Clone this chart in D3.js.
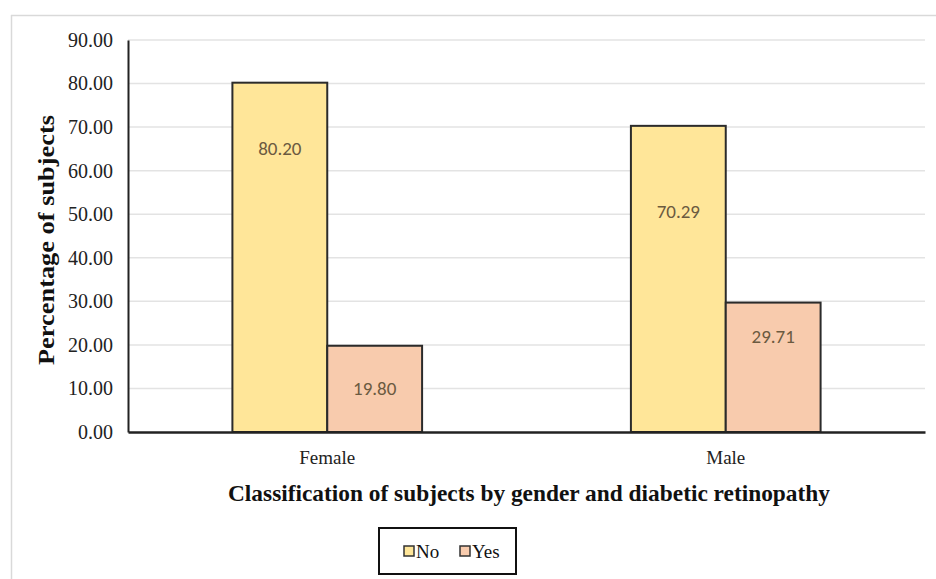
<!DOCTYPE html>
<html>
<head>
<meta charset="utf-8">
<script src="https://cdn.jsdelivr.net/npm/d3@7"></script>
<style>
  body { margin: 0; background: #fff; }
  svg { display: block; }
</style>
</head>
<body>
<script>
// data
var categories = ["Female", "Male"];
var seriesNames = ["No", "Yes"];
var noValues = [80.20, 70.29];
var yesValues = [19.80, 29.71];
// where the value labels sit, in axis units
var noLabelAt = [65.2, 50.7];
var yesLabelAt = [10.1, 22.0];
var yTicks = [0, 10, 20, 30, 40, 50, 60, 70, 80, 90];

var colors = { No: "#ffe699", Yes: "#f8cbad" };
var serif = "'Liberation Serif', 'DejaVu Serif', serif";

var width = 936, height = 579;
var margin = { top: 40, right: 11, bottom: 147, left: 128 };

var svg = d3.select("body")
    .append("svg")
    .attr("width", width)
    .attr("height", height);

// light chart-area border (top and left visible)
svg.append("line")
    .attr("x1", 11).attr("x2", width).attr("y1", 15.5).attr("y2", 15.5)
    .attr("stroke", "#d9d9d9").attr("stroke-width", 1.5);
svg.append("line")
    .attr("x1", 11.5).attr("x2", 11.5).attr("y1", 15).attr("y2", height)
    .attr("stroke", "#d9d9d9").attr("stroke-width", 1.5);

var g = svg.append("g")
    .attr("transform", "translate(" + margin.left + "," + margin.top + ")");

var w = width - margin.left - margin.right;
var h = height - margin.top - margin.bottom;

var y = d3.scaleLinear().domain([0, 90]).range([h, 0]);

var x0 = d3.scaleBand()
    .domain(categories)
    .range([0, w])
    .paddingInner(0.524)
    .paddingOuter(0.262);

var x1 = d3.scaleBand()
    .domain(seriesNames)
    .range([0, x0.bandwidth()]);

// gridlines
g.append("g")
    .selectAll("line")
    .data(yTicks.slice(1))
    .enter()
    .append("line")
    .attr("x1", 0).attr("x2", w)
    .attr("y1", function (d) { return y(d); })
    .attr("y2", function (d) { return y(d); })
    .attr("stroke", "#e3e3e3")
    .attr("stroke-width", 1.5);

// y axis
var yAxis = g.append("g")
    .call(d3.axisLeft(y).tickValues(yTicks).tickSize(0).tickPadding(15)
        .tickFormat(d3.format(".2f")));
yAxis.select(".domain").attr("stroke", "#222").attr("stroke-width", 2);
yAxis.selectAll("text")
    .style("font-family", serif)
    .style("font-size", "20px")
    .attr("fill", "#222");

// bars
var rows = categories.map(function (c, i) {
    return [
        { cat: c, key: "No", value: noValues[i], labelAt: noLabelAt[i] },
        { cat: c, key: "Yes", value: yesValues[i], labelAt: yesLabelAt[i] }
    ];
});

var groups = g.selectAll(".grp")
    .data(rows)
    .enter()
    .append("g")
    .attr("class", "grp")
    .attr("transform", function (d) { return "translate(" + x0(d[0].cat) + ",0)"; });

groups.selectAll("rect")
    .data(function (d) { return d; })
    .enter()
    .append("rect")
    .attr("x", function (d) { return x1(d.key); })
    .attr("y", function (d) { return y(d.value); })
    .attr("width", x1.bandwidth())
    .attr("height", function (d) { return h - y(d.value); })
    .attr("fill", function (d) { return colors[d.key]; })
    .attr("stroke", "#2b2b2b")
    .attr("stroke-width", 2);

groups.selectAll("text.val")
    .data(function (d) { return d; })
    .enter()
    .append("text")
    .attr("class", "val")
    .attr("x", function (d) { return x1(d.key) + x1.bandwidth() / 2; })
    .attr("y", function (d) { return y(d.labelAt); })
    .attr("dy", "0.35em")
    .attr("text-anchor", "middle")
    .style("font-family", "Carlito, 'Open Sans', sans-serif")
    .style("font-size", "19px")
    .attr("fill", "#6b5a40")
    .text(function (d) { return d.value.toFixed(2); });

// x axis baseline
var xAxis = g.append("g")
    .attr("transform", "translate(0," + h + ")")
    .call(d3.axisBottom(x0).tickSize(0).tickPadding(19));
xAxis.select(".domain").attr("stroke", "#222").attr("stroke-width", 2.5);
xAxis.selectAll("text")
    .style("font-family", serif)
    .style("font-size", "19px")
    .attr("fill", "#222");

// axis titles
svg.append("text")
    .attr("transform", "translate(54," + (margin.top + h / 2 + 4) + ") rotate(-90)")
    .attr("text-anchor", "middle")
    .style("font-family", serif)
    .style("font-weight", "bold")
    .style("font-size", "24px")
    .attr("textLength", 250)
    .attr("lengthAdjust", "spacingAndGlyphs")
    .attr("fill", "#111")
    .text("Percentage of subjects");

svg.append("text")
    .attr("x", 529)
    .attr("y", 501)
    .attr("text-anchor", "middle")
    .style("font-family", serif)
    .style("font-weight", "bold")
    .style("font-size", "23px")
    .attr("textLength", 602)
    .attr("lengthAdjust", "spacingAndGlyphs")
    .attr("fill", "#111")
    .text("Classification of subjects by gender and diabetic retinopathy");

// legend
var legend = svg.append("g").attr("transform", "translate(379,528)");
legend.append("rect")
    .attr("width", 137).attr("height", 46)
    .attr("fill", "#fff")
    .attr("stroke", "#111")
    .attr("stroke-width", 2);

var items = legend.selectAll(".item")
    .data(seriesNames)
    .enter()
    .append("g")
    .attr("class", "item")
    .attr("transform", function (d, i) { return "translate(" + (25 + i * 56) + ",23)"; });

items.append("rect")
    .attr("x", 0).attr("y", -5)
    .attr("width", 10).attr("height", 10)
    .attr("fill", function (d) { return colors[d]; })
    .attr("stroke", "#333")
    .attr("stroke-width", 1.5);

items.append("text")
    .attr("x", 12)
    .attr("dy", "0.35em")
    .style("font-family", serif)
    .style("font-size", "19px")
    .attr("fill", "#111")
    .text(function (d) { return d; });
</script>
</body>
</html>
